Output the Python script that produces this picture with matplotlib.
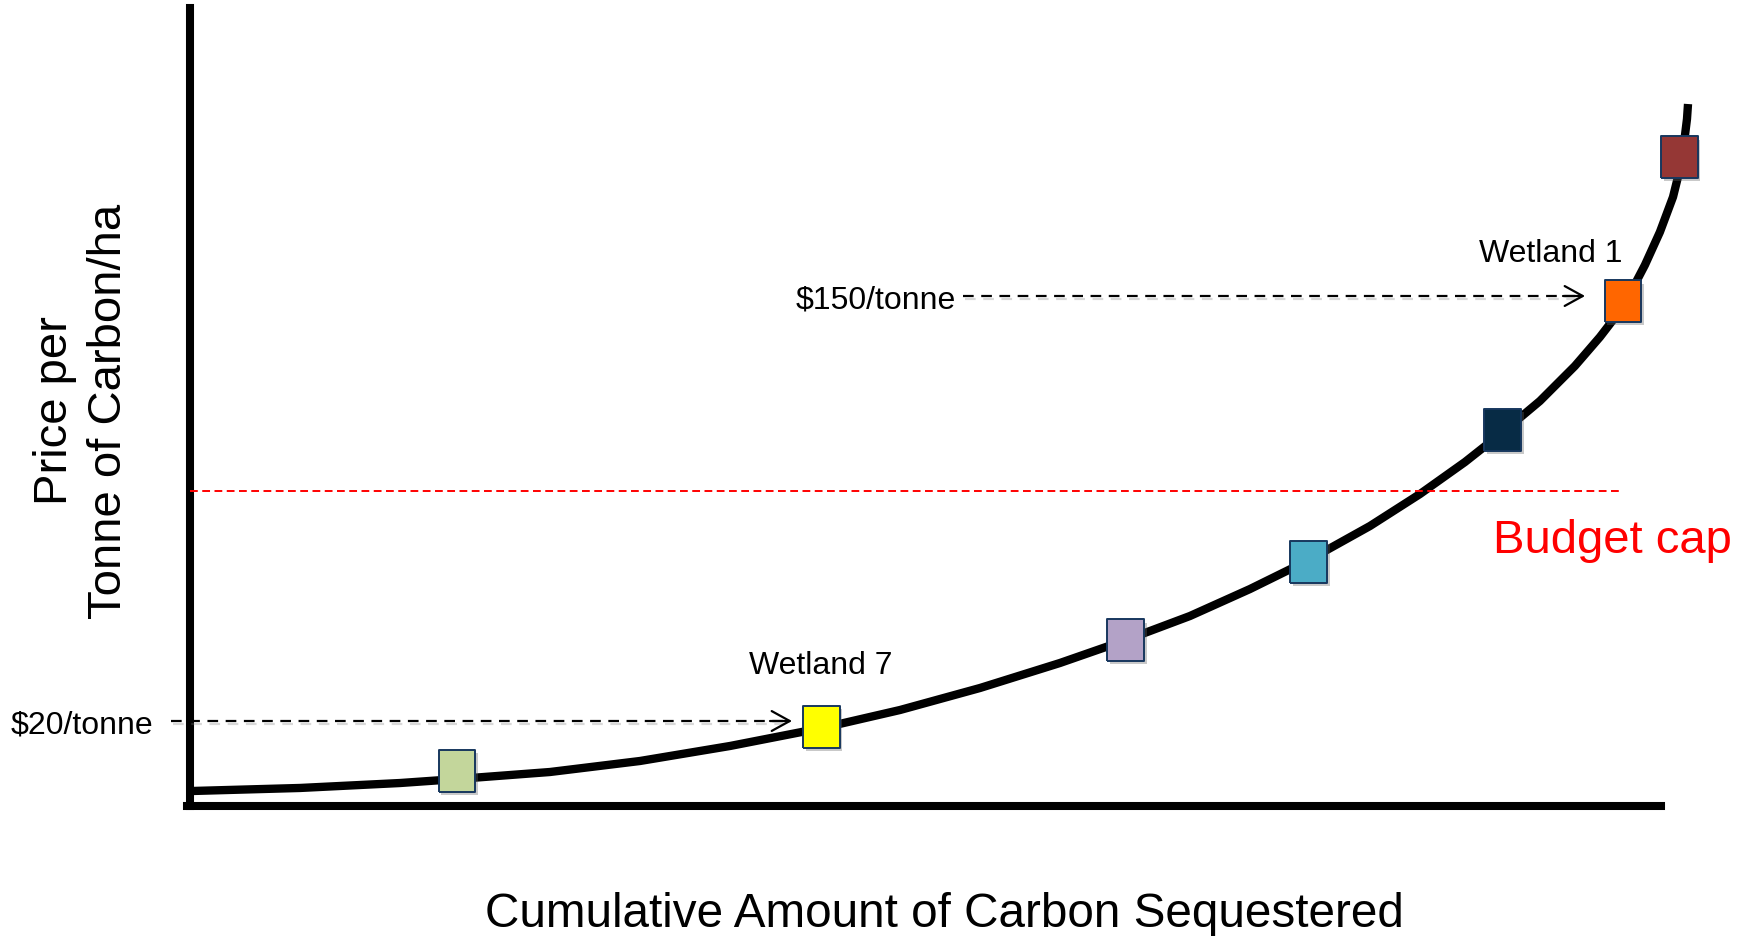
import numpy as np
import matplotlib.pyplot as plt
import matplotlib.patheffects as pe

plt.rcParams['font.family'] = ['Liberation Sans', 'DejaVu Sans']

# cost curve (x: cumulative carbon, y: price), axis length = 100
curva_x = [0.14, 7.48, 14.28, 18.15, 24.47, 30.59, 36.71, 42.96, 48.27, 53.71,
           59.14, 63.63, 67.98, 72.06, 76.07, 80.22, 83.62, 86.68, 89.26, 91.77,
           94.15, 95.85, 97.42, 98.91, 99.93, 100.82, 101.29, 101.56, 101.77, 101.84]
curva_y = [1.88, 2.26, 2.88, 3.38, 4.26, 5.64, 7.52, 9.77, 12.03, 14.79,
           17.92, 20.80, 23.81, 27.19, 30.83, 35.09, 39.10, 43.11, 46.87, 50.75,
           55.14, 58.77, 62.53, 67.79, 71.93, 76.32, 79.82, 82.96, 86.09, 87.97]

# wetlands (squares) along the curve
humedal_x = [18.15, 42.96, 63.63, 76.07, 89.26, 97.42, 101.29]
humedal_y = [4.39, 9.90, 20.80, 30.58, 47.12, 63.28, 81.33]
colores = ['#c3d69b', '#ffff00', '#b3a2c7', '#4bacc6', '#072b45', '#ff6600', '#953735']

# budget cap and the two price arrows
tope = 39.47
tope_fin = 97.28
precio_20 = 10.65
precio_150 = 63.91
flecha_20 = (-1.29, 40.93)
flecha_150 = (52.55, 94.84)

fig = plt.figure(figsize=(17.52, 9.37), dpi=100)
ax = fig.add_axes([190 / 1752, 1 - 807 / 937, (1752 - 190) / 1752, 807 / 937])
ax.set_xlim(0, 106.19)
ax.set_ylim(0, 101.13)
ax.set_xticks([])
ax.set_yticks([])
ax.patch.set_alpha(0)

for lado in ['top', 'right']:
    ax.spines[lado].set_visible(False)
ax.spines['left'].set_bounds(0, 100)
ax.spines['bottom'].set_bounds(-0.2, 100)
for lado in ['left', 'bottom']:
    ax.spines[lado].set_linewidth(5.8)
    ax.spines[lado].set_capstyle('projecting')

sombra = [pe.SimpleLineShadow(offset=(1.5, -2.5), shadow_color='0.5', alpha=0.3), pe.Normal()]

# curve
ax.plot(curva_x, curva_y, color='black', lw=6.0, solid_capstyle='butt',
        solid_joinstyle='round', zorder=3)

# budget cap
ax.plot([0, tope_fin], [tope, tope], color='red', lw=1.4, dashes=(4, 2.3), zorder=4)
ax.text(88.58, 31.83, 'Budget cap', color='red', fontsize=34, va='baseline', ha='left')

# price arrows
for (x0, x1), yv in [(flecha_20, precio_20), (flecha_150, precio_150)]:
    ax.plot([x0, x1 - 0.2], [yv, yv], color='black', lw=1.6, dashes=(4.8, 3.4),
            path_effects=sombra, zorder=4, clip_on=False)
    ax.annotate('', xy=(x1, yv), xytext=(x1 - 1.5, yv),
                arrowprops=dict(arrowstyle='->,head_length=1.0,head_width=0.55',
                                mutation_scale=13, lw=1.6, color='black',
                                shrinkA=0, shrinkB=0), zorder=4)

# wetland markers
cuadro = [(-37, -42), (37, -42), (37, 42), (-37, 42), (-37, -42)]
ax.scatter(humedal_x, humedal_y, s=30.2 ** 2, marker=cuadro, c=colores,
           edgecolors='#17375e', linewidths=1.4, zorder=5, clip_on=False,
           path_effects=[pe.SimplePatchShadow(offset=(1.5, -2.5), shadow_rgbFace='0.4',
                                              alpha=0.35), pe.Normal()])

# labels
ax.text(-12.17, 9.27, '$20/tonne', fontsize=23, va='baseline', ha='left', clip_on=False)
ax.text(41.20, 62.53, '$150/tonne', fontsize=23, va='baseline', ha='left')
ax.text(38.0, 16.67, 'Wetland 7', fontsize=23, va='baseline', ha='left')
ax.text(87.63, 68.30, 'Wetland 1', fontsize=23, va='baseline', ha='left')

fig.text(944 / 1752, 1 - 927 / 937, 'Cumulative Amount of Carbon Sequestered',
         fontsize=34.3, ha='center', va='baseline')
fig.text(82 / 1752, 1 - 411 / 937, 'Price per\nTonne of Carbon/ha', fontsize=34,
         rotation=90, ha='center', va='center', multialignment='center',
         linespacing=1.3)

fig.savefig('out.png', dpi=100)
